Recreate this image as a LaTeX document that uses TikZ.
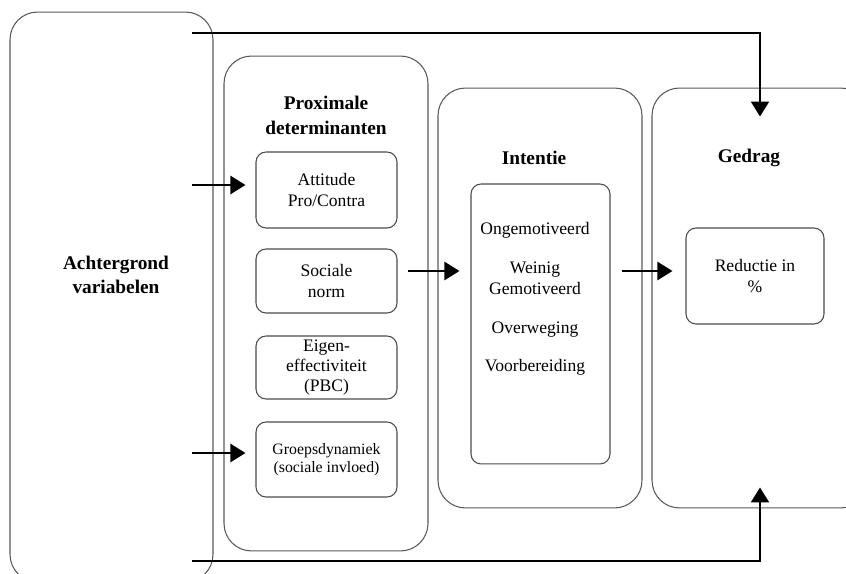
\documentclass[tikz,border=0pt]{standalone}
\usepackage{fontspec}
\setmainfont{Liberation Serif}
\usetikzlibrary{arrows.meta}
\begin{document}
\begin{tikzpicture}[x=0.02cm,y=-0.02cm,
    bigbox/.style={draw=black!65,line width=0.6pt,rounded corners=0.55cm,inner sep=0pt},
    smallbox/.style={draw=black!70,line width=0.6pt,rounded corners=0.2cm,align=center,
      inner sep=0pt,font=\fontsize{10}{11.5}\selectfont},
    title/.style={font=\fontsize{11}{14}\selectfont\bfseries,align=center},
    flow/.style={line width=1.3pt,-{Triangle[length=0.3cm,width=0.36cm]}}]
    \path[use as bounding box] (0,0) rectangle (846,574);
    \clip (0,0) rectangle (846,574);
    % achtergrond
    \node[bigbox,minimum width=4.06cm,minimum height=11.4cm] (achter) at (111.5,297) {};
    \node[title] (achtertxt) at (116,275) {Achtergrond\\variabelen};
    % proximale determinanten
    \node[bigbox,minimum width=4.08cm,minimum height=9.9cm] (prox) at (326,303.5) {};
    \node[title] (proxtxt) at (326,115.5) {Proximale\\determinanten};
    \node[smallbox,minimum width=2.82cm,minimum height=1.52cm] (att) at (326.5,190) {Attitude\\Pro/Contra};
    \node[smallbox,minimum width=2.82cm,minimum height=1.28cm] (soc) at (326.5,281) {Sociale\\norm};
    \node[smallbox,minimum width=2.82cm,minimum height=1.26cm] (eig) at (326.5,367.5) {Eigen-\\effectiviteit\\(PBC)};
    \node[smallbox,minimum width=2.82cm,minimum height=1.5cm,
      font=\fontsize{9}{10.5}\selectfont] (grp) at (326.5,459.5) {Groepsdynamiek\\(sociale invloed)};
    % intentie
    \node[bigbox,minimum width=4.08cm,minimum height=8.4cm] (int) at (540,298) {};
    \node[title] (inttxt) at (534,158) {Intentie};
    \node[smallbox,minimum width=2.78cm,minimum height=5.6cm] (intin) at (540.5,324) {};
    \node[align=center,font=\fontsize{10}{12}\selectfont] (stadia) at (535,299)
      {Ongemotiveerd\\[10pt]Weinig\\Gemotiveerd\\[10pt]Overweging\\[10pt]Voorbereiding};
    % gedrag
    \node[bigbox,minimum width=4.32cm,minimum height=8.4cm] (ged) at (760,298) {};
    \node[title] (gedtxt) at (749,158) {Gedrag};
    \node[smallbox,minimum width=2.76cm,minimum height=1.92cm] (red) at (755,276) {Reductie in\\\%};
    % pijlen
    \coordinate (src0) at (192,33);
    \coordinate (src1) at (192,185);
    \coordinate (src2) at (192,453);
    \coordinate (src3) at (192,561);
    \draw[flow] (src0) -| ([yshift=-0.58cm]ged.north);
    \draw[flow] (src3) -| ([yshift=0.42cm]ged.south);
    \draw[flow,shorten >=0.2cm] (src1) -- (src1 -| att.west);
    \draw[flow,shorten >=0.2cm] (src2) -- (src2 -| grp.west);
    \draw[flow,shorten <=0.2cm,shorten >=0.22cm] ([yshift=0.2cm]soc.east) -- ([yshift=0.2cm]soc.east -| intin.west);
    \draw[flow,shorten <=0.22cm,shorten >=0.26cm] ([yshift=0.2cm]soc.east -| intin.east) -- ([yshift=0.2cm]soc.east -| red.west);
\end{tikzpicture}
\end{document}
